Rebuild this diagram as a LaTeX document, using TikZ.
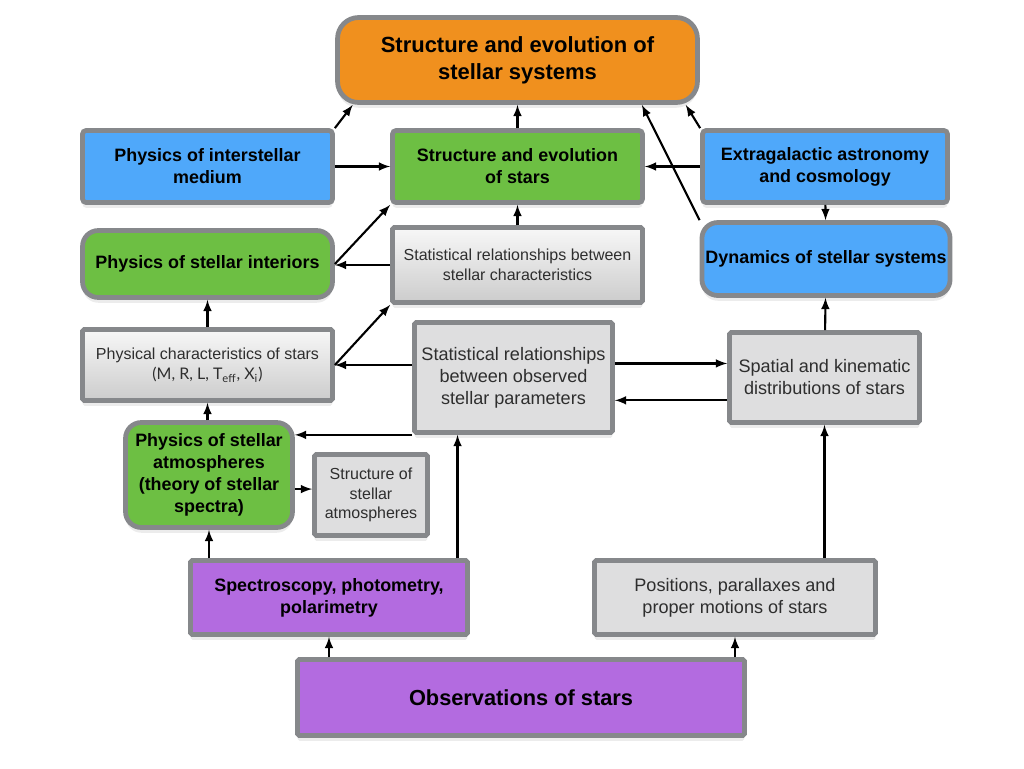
\documentclass[tikz,border=0pt]{standalone}
\usepackage{fontspec}
\setmainfont{Liberation Sans}
\newfontfamily\symfont{Lato}
\usetikzlibrary{arrows,shadows}

\definecolor{rim}{HTML}{86888B}
\definecolor{orangefill}{HTML}{F0901E}
\definecolor{bluefill}{HTML}{4FA8FA}
\definecolor{greenfill}{HTML}{6DBF43}
\definecolor{violetfill}{HTML}{B36BE0}
\definecolor{greyfill}{HTML}{DEDEDF}
\definecolor{greytext}{HTML}{2E2E2E}

\begin{document}
\begin{tikzpicture}[x=0.02cm, y=-0.02cm,
  box/.style={draw=rim, line width=2.7pt, align=center, inner sep=2pt,
    drop shadow={shadow xshift=0pt, shadow yshift=-3pt, opacity=.15}},
  hot/.style={box, font=\bfseries\fontsize{10.2}{12.5}\selectfont},
  cool/.style={box, fill=greyfill, text=greytext, font=\fontsize{10.3}{12.5}\selectfont},
  fade/.style={box, top color=black!3, bottom color=black!20, text=greytext,
    font=\fontsize{9.1}{11.5}\selectfont}]
  \useasboundingbox (0,0) rectangle (1024,768);

  \node[hot, fill=orangefill, rounded corners=12pt, minimum width=7.2cm, minimum height=1.7cm,
    font=\bfseries\fontsize{12.5}{15.3}\selectfont] (top) at (517.5,60) {Structure and evolution of\\stellar systems};
  \node[hot, fill=bluefill, rounded corners=2pt, minimum width=5cm, minimum height=1.44cm] (ism) at (207.5,166.5) {Physics of interstellar\\medium\hspace*{0pt}};
  \node[hot, fill=greenfill, rounded corners=2pt, minimum width=5cm, minimum height=1.44cm] (sstars) at (517.5,166.5) {Structure and evolution\\of stars};
  \node[hot, fill=bluefill, rounded corners=2pt, minimum width=4.9cm, minimum height=1.44cm] (extra) at (825,166.5) {Extragalactic astronomy\\and cosmology};
  \node[hot, fill=greenfill, rounded corners=9pt, minimum width=5cm, minimum height=1.34cm] (interiors) at (207.5,264) {Physics of stellar interiors};
  \node[fade, rounded corners=1pt, minimum width=5cm, minimum height=1.5cm] (statchar) at (517.5,265) {Statistical relationships between\\stellar characteristics};
  \node[hot, fill=bluefill, rounded corners=9pt, minimum width=4.94cm, minimum height=1.46cm] (dyn) at (826,259) {Dynamics of stellar systems};
  \node[fade, rounded corners=1pt, minimum width=5cm, minimum height=1.42cm] (physchar) at (207.5,365)
    {Physical characteristics of stars\\{\symfont (M, R, L, T\textsubscript{eff}, X\textsubscript{i})}};
  \node[cool, rounded corners=1pt, minimum width=3.96cm, minimum height=2.2cm] (statobs) at (513.5,377.5) {Statistical relationships\\between observed\\stellar parameters};
  \node[cool, rounded corners=1pt, minimum width=3.8cm, minimum height=1.8cm] (spatial) at (824.5,377.5) {Spatial and kinematic\\distributions of stars};
  \node[hot, fill=greenfill, rounded corners=9pt, minimum width=3.34cm, minimum height=2.1cm] (atmos) at (209,475) {Physics of stellar\\atmospheres\\(theory of stellar\\spectra)};
  \node[cool, rounded corners=1pt, minimum width=2.26cm, minimum height=1.62cm,
    font=\fontsize{9.1}{11}\selectfont] (structatm) at (371,495) {Structure of\\stellar\\atmospheres};
  \node[hot, fill=violetfill, rounded corners=1pt, minimum width=5.54cm, minimum height=1.48cm] (spectro) at (329,597.5) {Spectroscopy, photometry,\\polarimetry};
  \node[cool, rounded corners=1pt, minimum width=5.62cm, minimum height=1.48cm] (positions) at (735,597.5) {Positions, parallaxes and\\proper motions of stars};
  \node[hot, fill=violetfill, rounded corners=1pt, minimum width=8.94cm, minimum height=1.52cm,
    font=\bfseries\fontsize{12.4}{15}\selectfont] (obs) at (521,697.5) {Observations of stars};

  \path[-latex, line width=1.2pt]
  (ism.north east) edge ([xshift=10pt]top.south west)
  (ism) edge (sstars)
  (sstars) edge (top)
  (extra) edge (sstars)
  (extra.north west) edge ([xshift=-8pt]top.south east)
  (dyn.north west) edge ([xshift=-33pt]top.south east)
  (extra) edge (dyn)
  (interiors.east) edge (sstars.south west)
  (statchar) edge (sstars)
  (statchar.west) edge (statchar.west -| interiors.east)
  (physchar) edge (interiors)
  (physchar.east) edge (statchar.south west)
  (physchar.east -| statobs.west) edge (physchar.east)
  ([yshift=8pt]statobs.east) edge ([yshift=8pt]statobs.east -| spatial.west)
  ([yshift=-13pt]spatial.west) edge ([yshift=-13pt]spatial.west -| statobs.east)
  (spatial) edge (dyn)
  (statobs.south west) edge (statobs.south west -| atmos.east)
  (atmos.north -| physchar.south) edge (physchar.south)
  ([yshift=-8pt]atmos.east) edge ([yshift=-8pt]atmos.east -| structatm.west)
  (spectro.north -| atmos.south) edge (atmos.south)
  ([xshift=-7pt]spectro.north east) edge ([xshift=-7pt]spectro.north east |- statobs.south)
  (positions.north -| spatial.south) edge (spatial.south)
  (obs.north -| spectro.south) edge (spectro.south)
  (obs.north -| positions.south) edge (positions.south)
  ;
\end{tikzpicture}
\end{document}
